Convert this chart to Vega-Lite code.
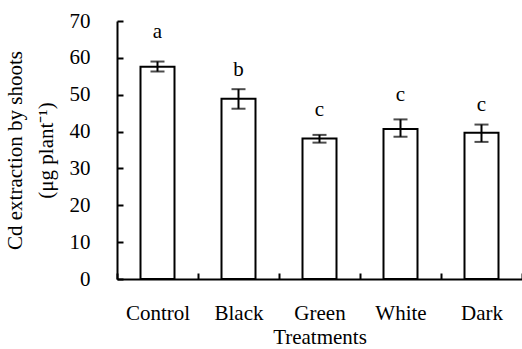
{
  "$schema": "https://vega.github.io/schema/vega-lite/v6.json",
  "autosize": "none",
  "width": 405,
  "height": 258,
  "padding": {"left": 117, "top": 21, "right": 0, "bottom": 70},
  "background": "white",
  "config": {
    "view": {"stroke": null},
    "font": "Liberation Serif",
    "axis": {
      "labelFont": "Liberation Serif",
      "titleFont": "Liberation Serif",
      "labelFontSize": 21,
      "titleFontSize": 21,
      "labelColor": "black",
      "titleColor": "black",
      "titleFontWeight": "normal",
      "domainColor": "black",
      "domainWidth": 2,
      "tickColor": "black",
      "tickWidth": 2,
      "grid": false,
      "labelOverlap": false
    }
  },
  "data": {
    "values": [
      {"treatment": "Control", "mean": 57.6, "lo": 56.3, "hi": 59.0, "letter": "a", "ly": 65.3},
      {"treatment": "Black", "mean": 48.9, "lo": 46.2, "hi": 51.5, "letter": "b", "ly": 55.0},
      {"treatment": "Green", "mean": 38.1, "lo": 37.0, "hi": 39.1, "letter": "c", "ly": 44.2},
      {"treatment": "White", "mean": 40.7, "lo": 38.6, "hi": 43.3, "letter": "c", "ly": 48.2},
      {"treatment": "Dark", "mean": 39.7, "lo": 37.2, "hi": 41.9, "letter": "c", "ly": 45.5}
    ]
  },
  "encoding": {
    "x": {
      "field": "treatment",
      "type": "nominal",
      "sort": null,
      "scale": {"paddingInner": 0, "paddingOuter": 0},
      "axis": {
        "title": "Treatments",
        "labelAngle": 0,
        "tickBand": "extent",
        "tickSize": -6,
        "labelPadding": 29,
        "titlePadding": 3
      }
    }
  },
  "layer": [
    {
      "mark": {"type": "bar", "fill": "white", "stroke": "black", "strokeWidth": 2, "size": 34},
      "encoding": {
        "y": {
          "field": "mean",
          "type": "quantitative",
          "title": ["Cd extraction by shoots", "(μg plant⁻¹)"],
          "scale": {"domain": [0, 70], "nice": false},
          "axis": {
            "values": [0, 10, 20, 30, 40, 50, 60, 70],
            "tickSize": -6,
            "labelPadding": 33,
            "titlePadding": 13,
            "titleLineHeight": 31
          }
        }
      }
    },
    {
      "mark": {"type": "errorbar", "ticks": {"size": 14, "thickness": 2, "color": "black"}, "rule": {"strokeWidth": 2, "color": "black"}},
      "encoding": {
        "y": {
          "field": "lo",
          "type": "quantitative",
          "title": ["Cd extraction by shoots", "(μg plant⁻¹)"],
          "axis": {
            "values": [0, 10, 20, 30, 40, 50, 60, 70],
            "tickSize": -6,
            "labelPadding": 33,
            "titlePadding": 13,
            "titleLineHeight": 31
          }
        },
        "y2": {"field": "hi"}
      }
    },
    {
      "mark": {"type": "text", "fontSize": 21, "baseline": "alphabetic", "color": "black"},
      "encoding": {
        "y": {
          "field": "ly",
          "type": "quantitative",
          "title": ["Cd extraction by shoots", "(μg plant⁻¹)"],
          "axis": {
            "values": [0, 10, 20, 30, 40, 50, 60, 70],
            "tickSize": -6,
            "labelPadding": 33,
            "titlePadding": 13,
            "titleLineHeight": 31
          }
        },
        "text": {"field": "letter"}
      }
    }
  ]
}
